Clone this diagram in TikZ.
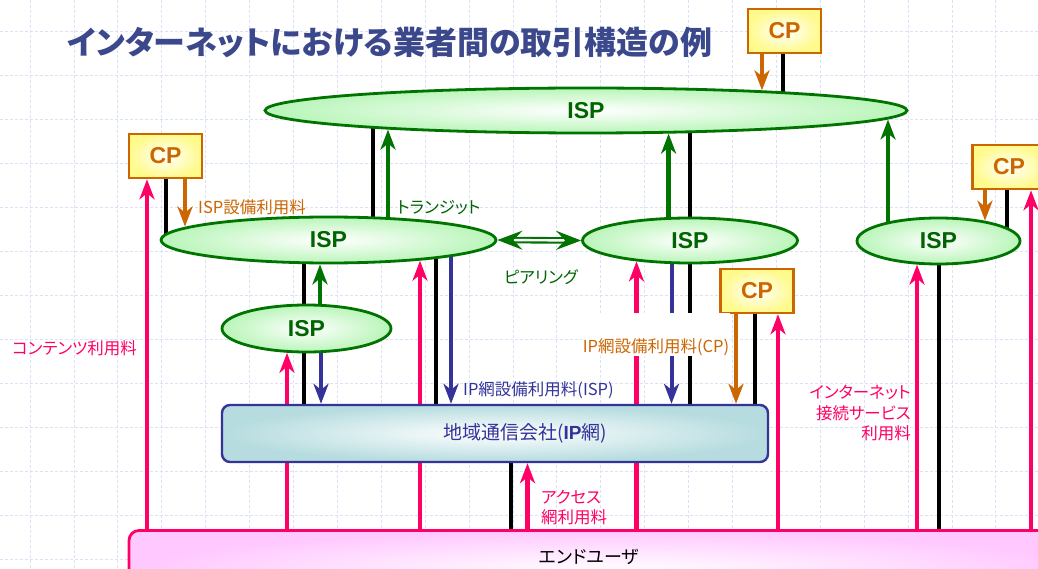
\documentclass[tikz,border=0pt]{standalone}
\usepackage{fontspec}
\usetikzlibrary{arrows.meta,shapes.geometric,calc}
\setmainfont{Noto Sans CJK JP}
\newfontfamily\jp[RawFeature=+palt]{Noto Sans CJK JP}
\newfontfamily\lat{Liberation Sans}
\definecolor{gridc}{RGB}{218,226,247}
\definecolor{titleblue}{RGB}{60,72,140}
\definecolor{ispgreen}{RGB}{0,115,0}
\definecolor{ispdark}{RGB}{0,100,0}
\definecolor{isplight}{RGB}{185,245,185}
\definecolor{cporange}{RGB}{204,102,0}
\definecolor{cpyellow}{RGB}{255,250,140}
\definecolor{netblue}{RGB}{51,51,153}
\definecolor{netfill}{RGB}{182,220,223}
\definecolor{mypink}{RGB}{255,0,102}
\definecolor{userfill}{RGB}{255,200,255}
\pgfdeclarelayer{gridlayer}
\pgfdeclarelayer{lines}
\pgfsetlayers{gridlayer,lines,main}
\tikzset{
  gridline/.style={draw=gridc, line width=0.8pt, dash pattern=on 3pt off 2pt},
  isp/.style={ellipse, draw=ispgreen, line width=2.8pt, inner color=white, outer color=isplight,
    inner sep=0pt, text=ispdark, font=\lat\bfseries\fontsize{23}{23}\selectfont},
  cpbox/.style={rectangle, draw=cporange, line width=2.6pt, inner color=white, outer color=cpyellow,
    minimum width=73pt, minimum height=44pt, inner sep=0pt, text=cporange,
    font=\lat\bfseries\fontsize{23}{23}\selectfont},
  netbox/.style={rectangle, rounded corners=8pt, draw=netblue, line width=2.4pt, inner color=white, outer color=netfill},
  userbox/.style={rectangle, rounded corners=10pt, draw=mypink, line width=2.8pt, inner color=white, outer color=userfill},
  >={Stealth[length=20pt,width=15pt,inset=6pt]},
  pinkarr/.style={draw=mypink, line width=4.5pt, ->},
  greenarr/.style={draw=ispgreen, line width=4.5pt, ->},
  bluearr/.style={draw=netblue, line width=4pt, ->},
  orangearr/.style={draw=cporange, line width=4.5pt, ->},
  blackline/.style={draw=black, line width=3.6pt},
  peer/.style={draw=ispgreen, line width=2.1pt, double=white, double distance=2.4pt,
    {Stealth[length=25pt,width=19pt,inset=9pt]}-{Stealth[length=25pt,width=19pt,inset=9pt]}},
  lbl/.style={font=\jp\fontsize{16.5}{20.5}\selectfont, inner sep=0pt},
}
\begin{document}
\begin{tikzpicture}[x=1pt,y=-1pt]
\useasboundingbox (0,0) rectangle (1038,569);
\clip (0,0) rectangle (1038,569);
\begin{pgfonlayer}{gridlayer}
\fill[white] (0,0) rectangle (1038,569);
\foreach \i in {0,...,23} \draw[gridline] ({30+43.9*\i},0) -- ({30+43.9*\i},569);
\foreach \j in {0,...,12} \draw[gridline] (0,{31.5+44*\j}) -- (1038,{31.5+44*\j});
\end{pgfonlayer}

% title
\node[anchor=west, inner sep=0pt, text=titleblue, font=\jp\bfseries\fontsize{32}{32}\selectfont] (title) at (67,42) {インターネットにおける業者間の取引構造の例};

% ISP ellipses
\node[isp, minimum width=642pt, minimum height=45pt] (ispT) at (586,110.5) {ISP};
\node[isp, minimum width=335pt, minimum height=46pt] (ispL) at (328.5,240) {ISP};
\node[isp, minimum width=215pt, minimum height=45pt] (ispM) at (690,240.5) {ISP};
\node[isp, minimum width=163pt, minimum height=46pt] (ispR) at (938.5,241) {ISP};
\node[isp, minimum width=169pt, minimum height=47pt] (ispS) at (306.5,328.5) {ISP};

% CP boxes
\node[cpbox] (cpT) at (784.5,31) {CP};
\node[cpbox] (cpL) at (165.5,156) {CP};
\node[cpbox] (cpM) at (757,291) {CP};
\node[cpbox] (cpR) at (1009,167) {CP};

% regional carrier and end users
\node[netbox, minimum width=546pt, minimum height=57pt] (ipnet) at (495,433.5) {};
\node[inner sep=0pt, text=netblue, font=\jp\fontsize{19}{19}\selectfont] (ipnettext) at (525,433.5) {地域通信会社({\lat\bfseries IP}網)};
\node[userbox, minimum width=960pt, minimum height=80pt] (euser) at (609,570.5) {};
\node[inner sep=0pt, font=\jp\fontsize{18}{18}\selectfont] (eusertext) at (589,557) {エンドユーザ};

% labels
\node[lbl, anchor=west, text=cporange] (lisp) at (198,207) {ISP設備利用料};
\node[lbl, anchor=west, text=ispdark] (ltransit) at (397,208) {トランジット};
\node[lbl, text=ispdark] (lpeer) at (541,277) {ピアリング};
\node[lbl, anchor=west, text=netblue] (lnetisp) at (463,390) {IP網設備利用料(ISP)};
\node[lbl, anchor=base, text=cporange, fill=white, text height=39pt, text depth=4pt, inner xsep=0.5pt] (lnetcp) at (656,352) {IP網設備利用料(CP)};
\node[lbl, anchor=west, text=mypink] (lcontent) at (12,348) {コンテンツ利用料};
\node[lbl, anchor=east, align=right, text=mypink] (linet) at (911,413) {インターネット\\接続サービス\\利用料};
\node[lbl, anchor=west, align=left, text=mypink] (lacc) at (541,507.5) {アクセス\\網利用料};

% columns
\coordinate (xA) at (147,0);
\coordinate (xB) at (166,0);
\coordinate (xC) at (185,0);
\coordinate (xD) at (304,0);
\coordinate (xE) at (320,0);
\coordinate (xF) at (321,0);
\coordinate (xG) at (287,0);
\coordinate (xH) at (420,0);
\coordinate (xI) at (436,0);
\coordinate (xJ) at (451,0);
\coordinate (xK) at (373,0);
\coordinate (xL) at (388,0);
\coordinate (xM) at (668.6,0);
\coordinate (xN) at (690,0);
\coordinate (xO) at (636.5,0);
\coordinate (xP) at (671.5,0);
\coordinate (xQ) at (736,0);
\coordinate (xR) at (755,0);
\coordinate (xS) at (778,0);
\coordinate (xT) at (762,0);
\coordinate (xU) at (783,0);
\coordinate (xV) at (888,0);
\coordinate (xW) at (917,0);
\coordinate (xX) at (939,0);
\coordinate (xY) at (985,0);
\coordinate (xZ) at (1007,0);
\coordinate (xAA) at (1031,0);
\coordinate (xAB) at (511,0);
\coordinate (xAC) at (527.5,0);

\begin{pgfonlayer}{lines}
% top CP
\draw[orangearr] (xT |- cpT.south) -- ($(xT |- ispT.north)+(0,3.7)$);
\draw[blackline] (xU |- cpT.south) -- (xU |- ispT.center);
% left CP
\draw[pinkarr] (xA |- euser.north) -- (xA |- cpL.south);
\draw[blackline] (xB |- cpL.south) -- (xB |- ispL.center);
\draw[orangearr] (xC |- cpL.south) -- ($(xC |- ispL.north)+(0,11)$);
% transit left
\draw[blackline] (xK |- ispT.center) -- (xK |- ispL.center);
\draw[greenarr] (xL |- ispL.center) -- ($(xL |- ispT.south)+(0,-4.8)$);
% left ISP downwards
\draw[blackline] (xD |- ispL.center) -- (xD |- ipnet.north);
\draw[greenarr] (xE |- ispS.center) -- (xE |- ispL.south);
\draw[bluearr] (xF |- ispS.center) -- (xF |- ipnet.north);
\draw[pinkarr] (xG |- euser.north) -- ($(xG |- ispS.south)+(0,-0.6)$);
\draw[pinkarr] (xH |- euser.north) -- ($(xH |- ispL.south)+(0,-3.7)$);
\draw[blackline] (xI |- ispL.center) -- (xI |- ipnet.north);
\draw[bluearr] (xJ |- ispL.center) -- (xJ |- ipnet.north);
% middle ISP
\draw[blackline] (xN |- ispT.center) -- (xN |- ispM.center);
\draw[greenarr] (xM |- ispM.center) -- ($(xM |- ispT.south)+(0,-0.8)$);
\draw[blackline] (xN |- ispM.center) -- (xN |- ipnet.north);
\draw[bluearr] (xP |- ispM.center) -- (xP |- ipnet.north);
\draw[pinkarr] (xO |- euser.north) -- ($(xO |- ispM.south)+(0,-3)$);
% middle CP
\draw[orangearr] (xQ |- cpM.south) -- (xQ |- ipnet.north);
\draw[blackline] (xR |- cpM.south) -- (xR |- ipnet.north);
\draw[pinkarr] (xS |- euser.north) -- (xS |- cpM.south);
% right ISP
\draw[greenarr] (xV |- ispR.center) -- ($(xV |- ispT.south)+(0,-14.9)$);
\draw[pinkarr] (xW |- euser.north) -- ($(xW |- ispR.south)+(0,-0.8)$);
\draw[blackline] (xX |- ispR.center) -- (xX |- euser.north);
% right CP
\draw[orangearr] (xY |- cpR.south) -- ($(xY |- ispR.north)+(0,4.1)$);
\draw[blackline] (xZ |- cpR.south) -- (xZ |- ispR.center);
\draw[pinkarr] (xAA |- euser.north) -- (xAA |- cpR.south);
% access network
\draw[blackline] (xAB |- ipnet.south) -- (xAB |- euser.north);
\draw[pinkarr] (xAC |- euser.north) -- (xAC |- ipnet.south);
\end{pgfonlayer}

% peering
\draw[peer] (ispL.east) -- (ispM.west);
\end{tikzpicture}
\end{document}
